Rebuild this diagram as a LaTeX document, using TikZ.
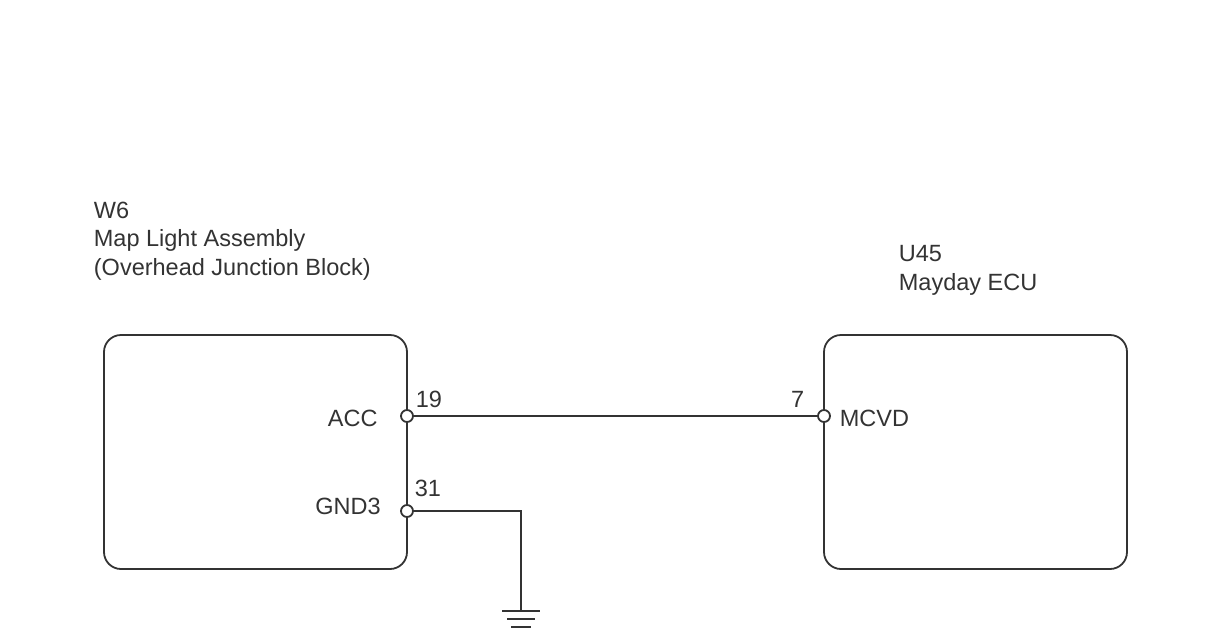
\documentclass[tikz,border=0pt]{standalone}
\usepackage{fontspec}
\setmainfont{Liberation Sans}
\usetikzlibrary{calc}
\usetikzlibrary{positioning}
\begin{document}
\begin{tikzpicture}[
	x=1pt, y=-1pt,
	line width=1.8pt, color=black!80,
	ecu/.style = {draw,rounded corners=17pt,minimum width=303pt,minimum height=234pt,inner sep=0pt},
	pin/.style = {draw,fill=white,circle,inner sep=0pt,minimum size=12pt},
	txt/.style = {inner sep=0pt,font=\fontsize{23.5pt}{28.5pt}\selectfont,text=black!80},
	]
	\useasboundingbox (0,0) rectangle (1220,638);

	\node[ecu] (@W6) at (255.5,452) {};
	\node[ecu] (@U45) at (975.5,452) {};

	\node[txt,anchor=north west,align=left] (@title1) at (93,201) {W6\\Map Light Assembly\\(Overhead Junction Block)};
	\node[txt,anchor=north west,align=left] (@title2) at (898,244.5) {U45\\Mayday ECU};

	\coordinate (@corner) at (521,511);
	\coordinate (@gnd) at (521,611);

	\node[pin] (@p19) at (407,416) {};
	\node[pin] (@p31) at (407,511) {};
	\node[pin] (@p7) at (824,416) {};

	\node[txt,anchor=east] (@acc) at (378.5,418) {ACC};
	\node[txt,anchor=east] (@gnd3) at (381.5,506) {GND3};
	\node[txt,anchor=west] (@mcvd) at (839,418) {MCVD};
	\node[txt,anchor=west] (@n19) at (415,399) {19};
	\node[txt,anchor=west] (@n31) at (414,488) {31};
	\node[txt,anchor=east] (@n7) at (805,399) {7};

	\draw (@p19) -- (@p7);
	\draw (@p31) -- (@corner) -- (@gnd);

	\draw ($(@gnd)+(-19,0)$) -- ($(@gnd)+(19,0)$);
	\draw ($(@gnd)+(-14,8)$) -- ($(@gnd)+(14,8)$);
	\draw ($(@gnd)+(-10,16)$) -- ($(@gnd)+(10,16)$);
\end{tikzpicture}
\end{document}
